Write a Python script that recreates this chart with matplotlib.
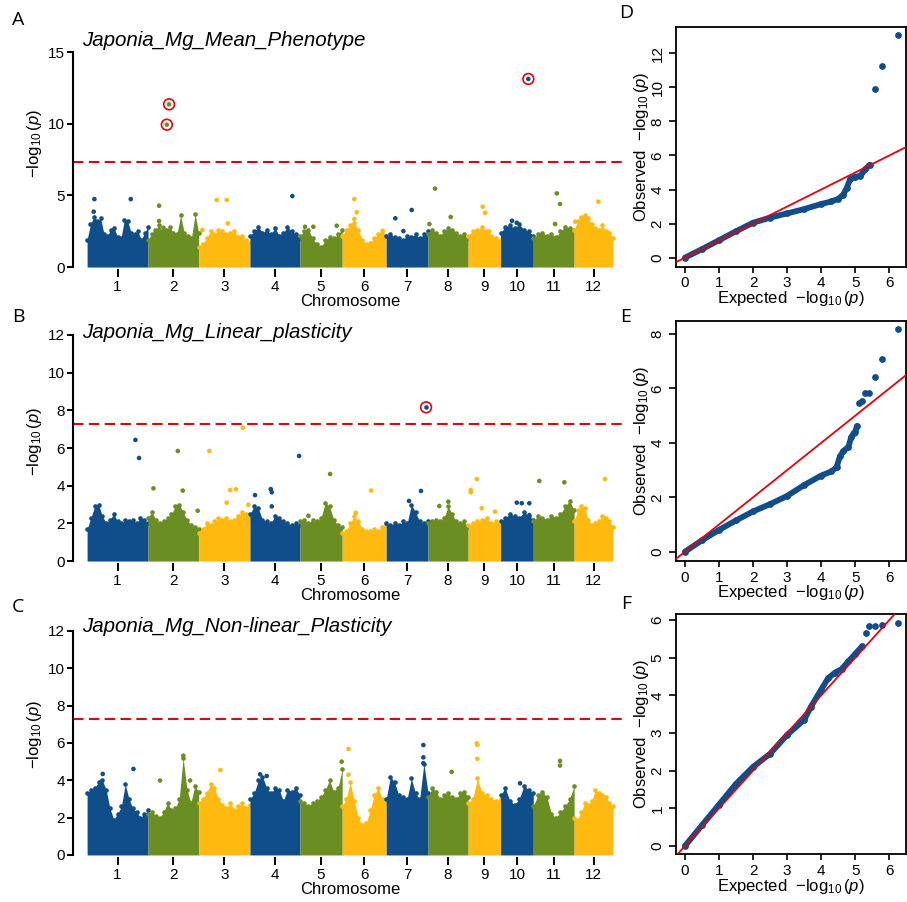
import numpy as np
import matplotlib
matplotlib.use('Agg')
import matplotlib.pyplot as plt

plt.rcParams['font.family'] = 'Liberation Sans'
plt.rcParams['mathtext.fontset'] = 'custom'
plt.rcParams['mathtext.rm'] = 'Liberation Sans'
plt.rcParams['mathtext.it'] = 'Liberation Sans:italic'

W, H = 907, 902

# rice chromosome lengths (Mb)
CHR_LEN = [43.27, 35.94, 36.41, 35.50, 29.96, 31.25, 29.70, 28.44, 23.01, 23.21, 29.02, 27.53]
CHR_LABELS = [str(i) for i in range(1, 13)]
CHR_COLORS = ['#104E8B', '#6B8E23', '#FFB90F']
THRESHOLD = 7.3

TITLES = ['Japonia_Mg_Mean_Phenotype', 'Japonia_Mg_Linear_plasticity',
          'Japonia_Mg_Non-linear_Plasticity']

# upper edge of the dense SNP cloud, per chromosome (-log10 p)
A_ENV = [
    [1.9, 3.0, 3.5, 3.2, 3.4, 2.3, 2.2, 2.6, 2.7, 2.1, 2.0, 3.3, 3.2, 2.4, 2.3, 2.5, 1.9, 2.4, 2.8],
    [1.9, 2.3, 2.6, 2.9, 2.5, 2.6, 2.8, 2.4, 2.3, 3.6, 2.4, 2.2, 2.0, 3.7, 2.4],
    [1.4, 1.6, 2.0, 2.5, 2.3, 2.6, 2.5, 2.3, 2.4, 2.5, 2.1, 2.2, 1.9, 1.7],
    [2.2, 2.5, 2.8, 2.4, 2.6, 2.3, 2.7, 2.2, 2.4, 2.8, 2.5, 2.3, 2.0],
    [2.2, 2.5, 2.6, 2.0, 1.6, 1.4, 1.9, 2.1, 2.0, 2.3, 2.6],
    [2.2, 2.6, 2.9, 3.1, 2.6, 1.9, 1.6, 1.7, 2.0, 2.3, 2.4, 2.2],
    [2.2, 2.3, 2.1, 2.0, 1.9, 2.2, 2.1, 2.3, 2.0, 2.3, 2.5],
    [2.3, 2.6, 2.4, 2.2, 2.5, 2.7, 2.6, 2.4, 2.2, 2.3, 2.0],
    [2.2, 2.5, 2.6, 2.8, 2.5, 2.2, 2.0, 1.9],
    [2.4, 2.8, 2.9, 2.7, 3.0, 2.6, 2.5, 2.2],
    [2.0, 2.3, 2.4, 2.2, 2.3, 2.1, 2.5, 2.8, 2.7, 2.6],
    [2.6, 3.2, 3.5, 3.6, 3.4, 3.0, 2.7, 2.6, 2.9, 2.5, 2.4, 2.0],
]
B_ENV = [
    [1.7, 2.3, 2.9, 3.0, 2.4, 2.0, 2.2, 2.5, 2.1, 2.0, 2.2, 2.1, 2.2, 2.0, 2.3, 2.2, 2.0],
    [2.3, 2.6, 2.2, 2.0, 2.1, 2.3, 2.5, 2.9, 3.0, 2.6, 2.2, 1.9, 1.8, 1.7],
    [1.5, 1.7, 2.0, 1.9, 2.1, 2.3, 2.2, 2.3, 2.1, 2.2, 2.4, 2.6, 2.5, 2.3],
    [2.5, 2.9, 2.8, 2.2, 2.1, 2.0, 2.4, 2.3, 2.1, 2.0, 1.9, 2.0, 1.9],
    [2.1, 2.2, 2.0, 2.2, 2.1, 2.3, 3.1, 2.9, 2.2, 1.9, 1.8],
    [1.5, 1.6, 2.0, 2.4, 2.1, 1.7, 1.6, 1.6, 1.7, 1.6, 1.8, 1.9],
    [2.0, 1.9, 2.0, 1.9, 2.1, 2.0, 3.0, 2.6, 2.1, 2.0, 2.1],
    [2.0, 2.1, 2.2, 2.1, 2.3, 2.9, 2.5, 2.1, 2.0, 2.1, 1.8],
    [1.9, 2.0, 2.1, 2.2, 2.3, 2.0, 2.1, 2.0],
    [2.1, 2.3, 2.5, 2.4, 2.3, 2.6, 2.4, 2.2],
    [2.1, 2.4, 2.3, 2.2, 2.4, 2.3, 2.5, 2.9, 3.2, 2.7],
    [2.1, 2.7, 2.9, 2.8, 2.2, 1.9, 2.0, 2.1, 2.4, 2.3, 2.1, 1.8],
]
C_ENV = [
    [3.3, 3.5, 3.6, 3.9, 4.0, 3.5, 2.5, 1.9, 2.2, 2.6, 3.8, 3.0, 2.5, 2.3, 2.0, 2.2, 2.4],
    [2.2, 2.3, 2.1, 2.0, 2.3, 2.8, 2.4, 2.5, 3.0, 5.2, 3.5, 2.8, 3.7, 3.4],
    [2.8, 3.0, 3.3, 3.8, 3.6, 3.0, 2.7, 2.5, 2.8, 2.4, 2.6, 2.8, 2.5, 2.7],
    [3.0, 3.3, 4.0, 4.2, 3.6, 3.3, 3.6, 3.5, 2.9, 3.5, 3.4, 3.6, 3.2],
    [2.9, 2.8, 2.6, 2.8, 2.9, 3.1, 3.5, 4.0, 3.4, 3.6, 4.6],
    [2.6, 3.0, 3.9, 2.9, 2.0, 1.6, 1.7, 2.4, 3.2, 3.6, 3.0, 2.8],
    [3.0, 4.2, 3.9, 3.2, 3.1, 3.0, 4.1, 3.3, 3.0, 4.9, 3.3],
    [3.1, 3.6, 3.4, 3.0, 3.2, 3.3, 3.1, 3.0, 3.3, 3.4, 3.1],
    [2.8, 3.0, 4.1, 3.3, 3.2, 3.0, 2.9, 3.0],
    [3.2, 3.6, 2.9, 2.7, 3.0, 3.7, 3.5, 3.3],
    [2.6, 3.2, 3.4, 3.1, 2.2, 2.0, 2.3, 2.6, 3.0, 3.7],
    [2.0, 1.9, 2.3, 2.8, 2.7, 2.9, 3.5, 3.3, 3.2, 3.1, 2.8, 2.6],
]

# isolated SNPs above the cloud (cumulative position in Mb, -log10 p)
A_HIT_POS = [5.2, 4.7, 31.0, 51.1, 51.1, 54.2, 81.8, 92.0, 99.1, 99.9, 145.7, 154.7, 160.6,
             177.2, 189.7, 191.4, 189.7, 209.9, 218.8, 224.5, 230.4, 243.0, 247.0, 258.1,
             280.8, 282.5, 285.5, 301.6, 305.0, 305.0, 332.2, 333.4, 335.7, 346.5, 362.9]
A_HIT_VAL = [4.74, 3.86, 4.74, 4.28, 3.21, 2.74, 2.58, 4.68, 4.68, 3.05, 4.95, 2.81, 2.81,
             2.88, 4.74, 3.82, 3.35, 2.53, 3.40, 2.51, 3.98, 3.00, 5.47, 3.49,
             4.21, 3.79, 2.47, 3.23, 3.09, 2.58, 3.00, 5.14, 4.40, 3.16, 4.56]
A_SIG_POS = [56.6, 58.2, 313.2]
A_SIG_VAL = [9.93, 11.35, 13.12]

B_HIT_POS = [34.3, 36.9, 47.1, 64.4, 67.9, 78.5, 86.8, 101.5, 105.7, 99.1, 110.5, 114.5,
             119.2, 130.4, 131.1, 131.1, 150.5, 172.5, 157.1, 201.6, 190.7, 237.0, 228.5,
             256.4, 250.0, 276.6, 272.3, 272.3, 280.1, 289.6, 305.0, 308.5, 313.9, 313.9,
             321.0, 338.8, 367.6]
B_HIT_VAL = [6.43, 5.47, 3.86, 5.84, 3.74, 2.67, 5.84, 3.77, 3.81, 3.10, 7.08, 2.99,
             3.50, 3.82, 3.65, 2.90, 5.58, 4.62, 2.40, 3.74, 2.56, 3.72, 3.19,
             3.15, 2.92, 4.35, 3.77, 3.65, 2.80, 2.62, 3.10, 3.07, 3.07, 2.44,
             4.25, 4.18, 4.35]
B_SIG_POS = [240.6]
B_SIG_VAL = [8.16]

C_HIT_POS = [32.9, 11.1, 51.8, 68.3, 73.1, 94.6, 122.8, 127.5, 180.7, 185.5, 185.5, 238.7,
             238.7, 238.7, 258.8, 276.6, 277.0, 277.0, 335.7, 335.7, 307.3]
C_HIT_VAL = [4.61, 4.34, 3.99, 5.32, 3.99, 4.55, 4.32, 4.23, 5.00, 5.68, 4.30, 5.89,
             5.23, 4.92, 4.45, 5.98, 5.90, 5.15, 5.04, 4.79, 3.84]
C_SIG_POS = []
C_SIG_VAL = []

# QQ plots: expected vs observed -log10 p
D_EXP = [0, 0.5, 1.0, 1.5, 2.0, 2.5, 3.0, 3.5, 4.0, 4.3, 4.5, 4.65, 4.75, 4.85, 5.0, 5.15, 5.3, 5.42]
D_OBS = [0, 0.5, 1.02, 1.55, 2.05, 2.35, 2.6, 2.85, 3.15, 3.3, 3.45, 3.7, 4.1, 4.6, 4.75, 4.8, 5.2, 5.45]
D_TOP_EXP = [5.58, 5.78, 6.25]
D_TOP_OBS = [9.89, 11.27, 13.08]

E_EXP = [0, 0.5, 1.0, 1.5, 2.0, 2.5, 3.0, 3.5, 4.0, 4.3, 4.45, 4.55, 4.65, 4.8, 4.88, 4.95, 5.0, 5.05]
E_OBS = [0, 0.42, 0.8, 1.15, 1.48, 1.75, 2.05, 2.45, 2.8, 2.95, 3.1, 3.5, 3.7, 3.85, 4.2, 4.35, 4.4, 4.62]
E_TOP_EXP = [5.12, 5.2, 5.3, 5.4, 5.58, 5.78, 6.25]
E_TOP_OBS = [5.48, 5.55, 5.82, 5.85, 6.43, 7.08, 8.18]

F_EXP = [0, 0.5, 1.0, 1.5, 2.0, 2.5, 3.0, 3.5, 3.7, 4.0, 4.2, 4.4, 4.6, 4.8, 5.0, 5.2]
F_OBS = [0, 0.55, 1.1, 1.65, 2.1, 2.45, 2.95, 3.35, 3.7, 4.15, 4.45, 4.6, 4.7, 4.9, 5.1, 5.3]
F_TOP_EXP = [5.31, 5.39, 5.58, 5.78, 6.25]
F_TOP_OBS = [5.65, 5.84, 5.84, 5.86, 5.93]

LOGP = r'$-\log_{10}(p)$'


def add_axes_px(fig, left, top, right, bottom):
    return fig.add_axes([left / W, 1 - bottom / H, (right - left) / W, (bottom - top) / H])


def chr_color(pos, ends):
    idx = np.searchsorted(ends, pos, side='right')
    return [CHR_COLORS[i % 3] for i in idx]


def manhattan(ax, env, hit_pos, hit_val, sig_pos, sig_val, ymin, ymax, yticks):
    ends = np.cumsum(CHR_LEN)
    starts = ends - np.array(CHR_LEN)
    for i, (s, L, e) in enumerate(zip(starts, CHR_LEN, env)):
        col = CHR_COLORS[i % 3]
        xs = np.linspace(s, s + L, len(e))
        ax.fill_between(xs, 0, e, color=col, lw=0)
        ax.scatter(xs, e, s=11, color=col, lw=0)
    ax.scatter(hit_pos, hit_val, s=11, c=chr_color(hit_pos, ends), lw=0)
    if sig_pos:
        ax.scatter(sig_pos, sig_val, s=11, c=chr_color(sig_pos, ends), lw=0, zorder=4)
        ax.scatter(sig_pos, sig_val, s=60, facecolors='none', edgecolors='#e8000b',
                   lw=1.2, zorder=4)
    ax.axhline(THRESHOLD, color='#e8000b', lw=1.5, ls=(0, (5, 2.6)))

    ax.set_xlim(-10, ends[-1] + 10)
    ax.set_ylim(ymin, ymax)
    ax.set_xticks((starts + ends) / 2)
    ax.set_xticklabels(CHR_LABELS)
    ax.set_yticks(yticks)
    for side in ['top', 'right', 'bottom']:
        ax.spines[side].set_visible(False)
    ax.spines['left'].set_bounds(0, yticks[-1])
    ax.spines['left'].set_linewidth(1.5)
    ax.tick_params(axis='x', length=6, width=1.4, labelsize=11, pad=2)
    ax.tick_params(axis='y', length=4.5, width=1.4, labelsize=11, pad=1.5)


def qq(ax, exp, obs, top_exp, top_obs, ymin, ymax, yticks):
    blue = CHR_COLORS[0]
    ax.plot(exp, obs, color=blue, lw=4.2, solid_capstyle='round', solid_joinstyle='round')
    ax.scatter(list(exp) + list(top_exp), list(obs) + list(top_obs), s=24, color=blue, lw=0)
    ax.plot([-1, 15], [-1, 15], color='#e8000b', lw=1.3, zorder=5)
    ax.set_xlim(-0.27, 6.49)
    ax.set_ylim(ymin, ymax)
    ax.set_xticks(range(0, 7))
    ax.set_yticks(yticks)
    ax.set_yticklabels([str(t) for t in yticks], rotation=90, va='center')
    for sp in ax.spines.values():
        sp.set_linewidth(1.3)
    ax.tick_params(axis='x', length=4.5, width=1.2, labelsize=11, pad=2.5)
    ax.tick_params(axis='y', length=5, width=1.2, labelsize=11, pad=3)
    ax.set_xlabel('Expected  ' + LOGP, fontsize=12, labelpad=-1)
    ax.set_ylabel('Observed  ' + LOGP, fontsize=12, labelpad=0)


fig = plt.figure(figsize=(W / 100, H / 100), dpi=100)

# Manhattan panels
axA = add_axes_px(fig, 73, 52, 627, 269.2)
manhattan(axA, A_ENV, A_HIT_POS, A_HIT_VAL, A_SIG_POS, A_SIG_VAL, -0.15, 15, [0, 5, 10, 15])
axB = add_axes_px(fig, 73, 335, 627, 563.3)
manhattan(axB, B_ENV, B_HIT_POS, B_HIT_VAL, B_SIG_POS, B_SIG_VAL, -0.12, 12, list(range(0, 13, 2)))
axC = add_axes_px(fig, 73, 631, 627, 857.2)
manhattan(axC, C_ENV, C_HIT_POS, C_HIT_VAL, C_SIG_POS, C_SIG_VAL, -0.12, 12, list(range(0, 13, 2)))

for title, ty, ly, cy in zip(TITLES, [40, 333, 627], [143, 441, 734], [302, 595, 890]):
    fig.text(82 / W, 1 - ty / H, title, fontsize=14.8, style='italic', va='center', ha='left')
    fig.text(35 / W, 1 - ly / H, LOGP, fontsize=12, rotation=90, va='center', ha='center')
    fig.text(350 / W, 1 - cy / H, 'Chromosome', fontsize=12, va='center', ha='center')

# QQ panels
axD = add_axes_px(fig, 675.7, 26.7, 906, 266.7)
qq(axD, D_EXP, D_OBS, D_TOP_EXP, D_TOP_OBS, -0.53, 13.56, list(range(0, 13, 2)))
axE = add_axes_px(fig, 675.7, 320.7, 906, 561)
qq(axE, E_EXP, E_OBS, E_TOP_EXP, E_TOP_OBS, -0.34, 8.49, [0, 2, 4, 6, 8])
axF = add_axes_px(fig, 675.7, 614, 906, 854.3)
qq(axF, F_EXP, F_OBS, F_TOP_EXP, F_TOP_OBS, -0.22, 6.16, list(range(0, 7)))

for letter, lx, ly in [('A', 18, 20), ('B', 18, 317), ('C', 18, 607),
                       ('D', 626, 13), ('E', 626, 317), ('F', 626, 604)]:
    fig.text(lx / W, 1 - ly / H, letter, fontsize=14, family='Open Sans', va='center', ha='center')

fig.savefig('out.png', dpi=100)
plt.close(fig)
